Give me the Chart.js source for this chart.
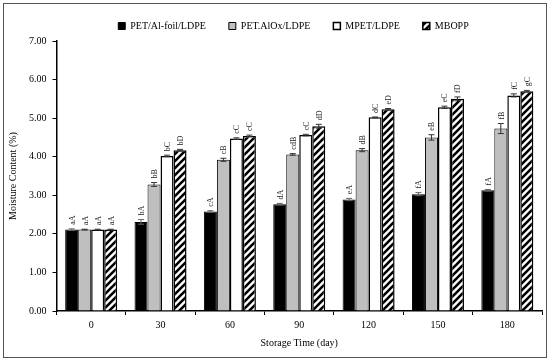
<!DOCTYPE html>
<html>
<head>
<meta charset="utf-8">
<script src="https://cdn.jsdelivr.net/npm/chart.js@4"></script>
<style>
    body { margin: 0; background: #fff; }
    #wrap { position: relative; width: 550px; height: 361px; }
    #frame { position: absolute; left: 3px; top: 3px; width: 542px; height: 353px; border: 1px solid #555; }
    #moist { position: absolute; left: 0; top: 0; }
</style>
</head>
<body>
<div id="wrap">
    <div id="frame"></div>
    <canvas id="moist" width="550" height="361"></canvas>
</div>
<script>
// storage days
const days = ["0", "30", "60", "90", "120", "150", "180"];

// moisture content (%) per packaging
const alFoil = [2.11, 2.31, 2.58, 2.77, 2.89, 3.03, 3.13];
const alOx = [2.11, 3.28, 3.92, 4.06, 4.17, 4.50, 4.73];
const mpet = [2.11, 4.02, 4.47, 4.56, 5.02, 5.28, 5.59];
const mbopp = [2.11, 4.17, 4.54, 4.79, 5.23, 5.50, 5.70];

// standard deviation
const alFoilErr = [0.02, 0.06, 0.02, 0.02, 0.03, 0.04, 0.02];
const alOxErr = [0.01, 0.05, 0.04, 0.02, 0.04, 0.07, 0.13];
const mpetErr = [0.01, 0.02, 0.02, 0.02, 0.01, 0.03, 0.04];
const mboppErr = [0.01, 0.02, 0.02, 0.05, 0.02, 0.05, 0.02];

// significance letters
const alFoilSig = ["aA", "bA", "cA", "dA", "eA", "fA", "fA"];
const alOxSig = ["aA", "bB", "cB", "cdB", "dB", "eB", "fB"];
const mpetSig = ["aA", "bC", "cC", "cC", "dC", "eC", "fC"];
const mboppSig = ["aA", "bD", "cC", "dD", "eD", "fD", "gC"];

const yTicks = [0, 1, 2, 3, 4, 5, 6, 7];

// hatch pattern for MBOPP
function hatch() {
    const s = 7;
    const c = document.createElement("canvas");
    c.width = s;
    c.height = s;
    const g = c.getContext("2d");
    g.fillStyle = "#fff";
    g.fillRect(0, 0, s, s);
    g.strokeStyle = "#000";
    g.lineWidth = 2.6;
    g.beginPath();
    g.moveTo(0, s);
    g.lineTo(s, 0);
    g.moveTo(-1, 1);
    g.lineTo(1, -1);
    g.moveTo(s - 1, s + 1);
    g.lineTo(s + 1, s - 1);
    g.stroke();
    return g.createPattern(c, "repeat");
}

const errors = [alFoilErr, alOxErr, mpetErr, mboppErr];
const sigs = [alFoilSig, alOxSig, mpetSig, mboppSig];

const errorBars = {
    id: "errorBars",
    afterDatasetsDraw(chart) {
        const ctx = chart.ctx;
        const y = chart.scales.y;
        ctx.save();
        chart.data.datasets.forEach((ds, i) => {
            const meta = chart.getDatasetMeta(i);
            meta.data.forEach((bar, j) => {
                const v = ds.data[j];
                const e = errors[i][j];
                const top = y.getPixelForValue(v + e);
                const bot = y.getPixelForValue(v - e);
                ctx.strokeStyle = i === 0 ? "#666" : "#333";
                ctx.lineWidth = 1;
                ctx.beginPath();
                ctx.moveTo(bar.x, top);
                ctx.lineTo(bar.x, bot);
                ctx.moveTo(bar.x - 3, top);
                ctx.lineTo(bar.x + 3, top);
                ctx.moveTo(bar.x - 3, bot);
                ctx.lineTo(bar.x + 3, bot);
                ctx.stroke();

                ctx.save();
                ctx.translate(bar.x + 3, top - 4);
                ctx.rotate(-Math.PI / 2);
                ctx.font = "8px 'Liberation Serif'";
                ctx.fillStyle = "#222";
                ctx.textAlign = "left";
                ctx.textBaseline = "alphabetic";
                ctx.fillText(sigs[i][j], 0, 0);
                ctx.restore();
            });
        });
        ctx.restore();
    },
};

// nudge the legend to the right like in the original
const legendShift = {
    id: "legendShift",
    afterLayout(chart) {
        chart.legend.left += 21;
        chart.legend.right += 21;
    },
};

Chart.defaults.font.family = "'Liberation Serif', serif";
Chart.defaults.color = "#000";

new Chart(document.getElementById("moist"), {
    type: "bar",
    data: {
        labels: days,
        datasets: [
            {
                label: "PET/Al-foil/LDPE",
                data: alFoil,
                backgroundColor: "#000",
                borderColor: "#000",
                borderWidth: 1,
            },
            {
                label: "PET.AlOx/LDPE",
                data: alOx,
                backgroundColor: "#bfbfbf",
                borderColor: "#000",
                borderWidth: 1,
            },
            {
                label: "MPET/LDPE",
                data: mpet,
                backgroundColor: "#fff",
                borderColor: "#000",
                borderWidth: 1.5,
            },
            {
                label: "MBOPP",
                data: mbopp,
                backgroundColor: hatch(),
                borderColor: "#000",
                borderWidth: 1.5,
            },
        ],
    },
    options: {
        responsive: false,
        animation: false,
        devicePixelRatio: 1,
        layout: { padding: { left: 3, right: 8, top: -2, bottom: 8 } },
        datasets: {
            bar: { barPercentage: 1, categoryPercentage: 0.75, borderSkipped: "bottom" },
        },
        plugins: {
            legend: {
                position: "top",
                labels: {
                    boxWidth: 7,
                    boxHeight: 7,
                    padding: 23,
                    font: { size: 10 },
                    color: "#000",
                },
            },
            tooltip: { enabled: false },
        },
        scales: {
            x: {
                grid: { drawOnChartArea: false, color: "#000", tickLength: 4 },
                border: { color: "#000", width: 1.5 },
                ticks: { font: { size: 10 }, padding: 4 },
                title: { display: true, text: "Storage Time (day)", font: { size: 10 }, padding: { top: 2 } },
            },
            y: {
                min: 0,
                max: 7,
                afterBuildTicks: (s) => { s.ticks = yTicks.map((v) => ({ value: v })); },
                grid: { drawOnChartArea: false, color: "#000", tickLength: 4 },
                border: { color: "#000", width: 1.5 },
                ticks: { font: { size: 10 }, callback: (v) => v.toFixed(2), padding: 6 },
                title: { display: true, text: "Moisture Content (%)", font: { size: 10 } },
            },
        },
    },
    plugins: [errorBars, legendShift],
});
</script>
</body>
</html>
